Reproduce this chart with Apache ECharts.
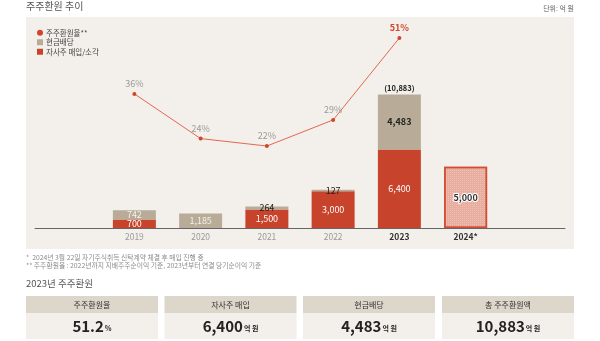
<!DOCTYPE html>
<html><head><meta charset="utf-8">
<script src="https://cdn.jsdelivr.net/npm/echarts@6/dist/echarts.min.js"></script>
<style>html,body{margin:0;padding:0;background:#fff}#c{width:600px;height:341px}</style>
</head><body><div id="c"></div>
<script>
// ---- data ----
const years = ['2019', '2020', '2021', '2022', '2023', '2024*'];
const buyback = [700, 0, 1500, 3000, 6400, 5000];      // 자사주 매입/소각
const cashDiv = [742, 1185, 264, 127, 4483, null];     // 현금배당
const payoutRate = [36, 24, 22, 29, 51, null];         // 주주환원율 (%)
const totalLabelYear = '2023';
const footnotes = [
  '*  2024년 3월 22일 자기주식취득 신탁계약 체결 후 매입 진행 중',
  '** 주주환원율 : 2022년까지 지배주주순이익 기준, 2023년부터 연결 당기순이익 기준'
];
const summaryHeads = ['주주환원율', '자사주 매입', '현금배당', '총 주주환원액'];
const summaryValues = ['51.2', '6,400', '4,483', '10,883'];
const summaryUnits = ['%', '억 원', '억 원', '억 원'];

// ---- styling ----
const FONT = '"Noto Sans CJK KR", "Noto Sans", sans-serif';
const RED = '#c8432b', BEIGE = '#b8ac98', LINE = '#e2674f', BG = '#f3f0eb';
const fmt = v => v.toLocaleString('en-US');

// pad categories so the axis line spans the panel
const cats = [''].concat(years).concat(['']);
const pad = arr => [null].concat(arr).concat([null]);

const boldYears = ['2023', '2024*'];
const xData = cats.map(c => ({
  value: c,
  textStyle: boldYears.includes(c) ? {color: '#333', fontWeight: 'bold'} : {color: '#9a9a9a'}
}));

const buyData = pad(buyback.map((v, i) => {
  if (years[i] === '2024*') {
    return {
      value: v,
      itemStyle: {color: '#e9ad9f', borderColor: '#d24d36', borderWidth: 1.5,
        decal: {symbol: 'rect', symbolSize: 1, dashArrayX: [1, 1], dashArrayY: [1, 1], color: 'rgba(255,255,255,0.22)'}},
      label: {color: '#333', textBorderColor: '#fff', textBorderWidth: 2, fontWeight: 'bold'}
    };
  }
  return {value: v || null};
}));

const darkCash = ['2021', '2022', '2023'];
const cashData = pad(cashDiv.map((v, i) => {
  if (v == null) return null;
  const dark = darkCash.includes(years[i]);
  return {value: v, label: {color: dark ? '#222' : '#f4f0ea', fontWeight: years[i] === '2023' ? 'bold' : 'normal'}};
}));

const totalData = pad(years.map((y, i) => y === totalLabelYear ? {value: 0, total: buyback[i] + cashDiv[i]} : null));

const rateData = pad(payoutRate.map((v, i) => {
  if (v == null) return null;
  const last = i === 4;
  return {value: v, label: last ? {color: '#d2452d', fontWeight: 'bold'} : {}};
}));

// ---- graphics: panels, footnotes, summary table ----
const graphics = [
  {type: 'rect', shape: {x: 26, y: 17, width: 548, height: 232}, style: {fill: BG}, z: -10},
  {type: 'text', left: 26, top: 1, style: {text: '주주환원 추이', font: '10px ' + FONT, fill: '#555'}},
  {type: 'text', right: 26, top: 5, style: {text: '단위: 억 원', font: '7px ' + FONT, fill: '#666'}},
  {type: 'text', left: 26, top: 254, style: {text: footnotes[0], font: '6.8px ' + FONT, fill: '#8a8a8a'}},
  {type: 'text', left: 26, top: 262, style: {text: footnotes[1], font: '6.8px ' + FONT, fill: '#8a8a8a'}},
  {type: 'text', left: 26, top: 279, style: {text: '2023년 주주환원', font: '9.5px ' + FONT, fill: '#555'}}
];
const boxX = [26, 164.5, 303, 442], boxW = 132;
summaryHeads.forEach((h, i) => {
  const x = boxX[i];
  graphics.push({type: 'rect', shape: {x: x, y: 296, width: boxW, height: 17}, style: {fill: '#ddd6ca'}});
  graphics.push({type: 'rect', shape: {x: x, y: 313, width: boxW, height: 26}, style: {fill: BG}});
  graphics.push({type: 'text', x: x + boxW / 2, y: 304.5,
    style: {text: h, font: '8px ' + FONT, fill: '#333', align: 'center', verticalAlign: 'middle'}});
  graphics.push({type: 'text', x: x + boxW / 2, y: 326.5,
    style: {
      text: '{v|' + summaryValues[i] + '}{u|' + summaryUnits[i] + '}',
      align: 'center', verticalAlign: 'middle',
      rich: {
        v: {font: 'bold 15px ' + FONT, fill: '#222'},
        u: {font: 'bold 7px ' + FONT, fill: '#222', padding: [4, 0, 0, 1]}
      }
    }});
});

const chart = echarts.init(document.getElementById('c'));
chart.setOption({
  animation: false,
  textStyle: {fontFamily: FONT},
  graphic: graphics,
  legend: {
    orient: 'vertical', left: 32, top: 23.5, itemWidth: 6, itemHeight: 6, itemGap: 1,
    data: [{name: '주주환원율**', icon: 'circle'}, {name: '현금배당', icon: 'rect'}, {name: '자사주 매입/소각', icon: 'rect'}],
    textStyle: {fontSize: 7.5, color: '#444', lineHeight: 8.5, padding: [0, 0, 0, -2]}
  },
  grid: {left: 35, right: 35, top: 38, bottom: 113},
  xAxis: {
    type: 'category', data: xData,
    axisLine: {lineStyle: {color: '#666', width: 1}},
    axisTick: {show: false},
    axisLabel: {fontSize: 8.5, margin: 5}
  },
  yAxis: [
    {type: 'value', min: 0, max: 15500, show: false, splitLine: {show: false}},
    {type: 'value', min: 0, max: 51, show: false, splitLine: {show: false}}
  ],
  series: [
    {
      name: '자사주 매입/소각', type: 'bar', stack: 'ret', barWidth: 43, data: buyData,
      itemStyle: {color: RED},
      label: {show: true, position: 'inside', color: '#fff', fontSize: 9, formatter: p => fmt(p.value)}
    },
    {
      name: '현금배당', type: 'bar', stack: 'ret', data: cashData,
      itemStyle: {color: BEIGE},
      label: {show: true, position: 'inside', fontSize: 9, formatter: p => fmt(p.value)}
    },
    {
      name: 'total', type: 'bar', stack: 'ret', data: totalData, itemStyle: {color: 'transparent'},
      label: {show: true, position: 'top', distance: 3, color: '#222', fontWeight: 'bold', fontSize: 7.5,
        formatter: p => '(' + fmt(p.data.total) + ')'}
    },
    {
      name: '주주환원율**', type: 'line', yAxisIndex: 1, data: rateData,
      lineStyle: {color: LINE, width: 1}, itemStyle: {color: '#d2452d'},
      symbol: 'circle', symbolSize: 4,
      label: {show: true, position: 'top', distance: 4, color: '#9a9a9a', fontSize: 9, formatter: p => p.value + '%'},
      z: 5
    }
  ]
});
</script></body></html>
